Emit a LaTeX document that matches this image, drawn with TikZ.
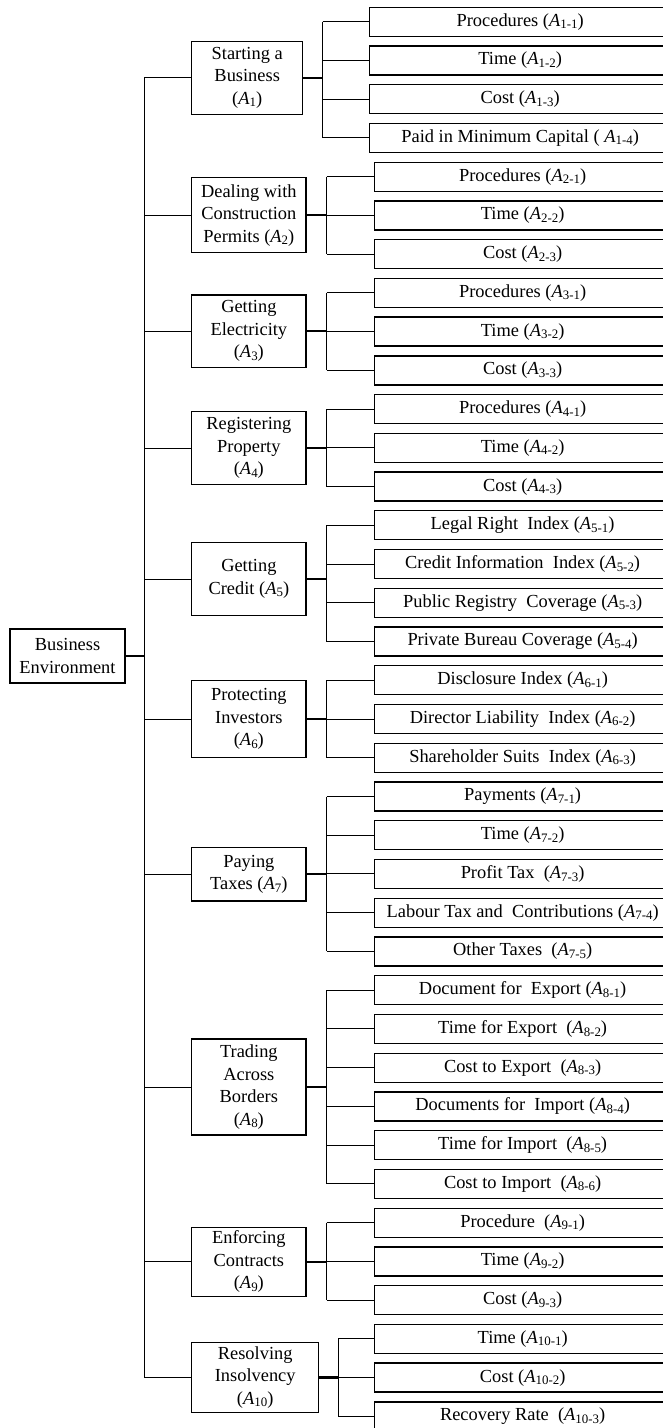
\documentclass[tikz,border=0pt]{standalone}
\usepackage{fontspec}
\setmainfont{Liberation Serif}
% subscript index set in a smaller size and lowered
\newcommand\ixsub[1]{\raisebox{-0.3ex}{\fontsize{12.9}{12.9}\selectfont #1}}
\newcommand\Ai[1]{\textit{A}\ixsub{#1}}
\tikzset{
  box/.style={draw, line width=1.1pt, inner sep=0pt, align=center,
              font=\fontsize{18.4}{22.5}\selectfont},
  cat/.style={box, minimum width=114.3pt},
  leaf/.style={box, line width=1.3pt, minimum width=296.7pt, minimum height=29pt},
  leafa/.style={leaf, minimum width=301.7pt},
  link/.style={line width=1pt},
  heavy/.style={line width=2.2pt},
}
\begin{document}
\begin{tikzpicture}[x=1pt,y=-1pt]
\useasboundingbox (0,0) rectangle (663,1428);
\clip (0,0) rectangle (663,1428);

% root
\node[box, minimum width=115pt, minimum height=54pt] (root) at (67.5,656) {Business\\Environment};

% categories
\node[cat, minimum width=111pt, minimum height=73.3pt] (a1) at (247.2,77.7) {Starting a\\Business\\(\Ai{1})};
\node[cat, minimum height=75pt] (a2) at (248.85,215.2) {Dealing with\\Construction\\Permits (\Ai{2})};
\node[cat, minimum height=72.7pt] (a3) at (248.85,331.3) {Getting\\Electricity\\(\Ai{3})};
\node[cat, minimum height=72.6pt] (a4) at (248.85,448) {Registering\\Property\\(\Ai{4})};
\node[cat, minimum height=73.4pt] (a5) at (248.85,579) {Getting\\Credit (\Ai{5})};
\node[cat, minimum height=77pt] (a6) at (248.85,719.2) {Protecting\\Investors\\(\Ai{6})};
\node[cat, minimum height=53.3pt] (a7) at (248.85,874.35) {Paying\\Taxes (\Ai{7})};
\node[cat, minimum height=96pt] (a8) at (248.85,1087) {Trading\\Across\\Borders\\(\Ai{8})};
\node[cat, minimum height=69pt] (a9) at (248.85,1261.8) {Enforcing\\Contracts\\(\Ai{9})};
\node[cat, minimum width=127pt, minimum height=69.6pt] (a10) at (255.2,1377.5) {Resolving\\Insolvency\\(\Ai{10})};

% indicators
\node[leafa] (l1x1) at (520.15,{21.7+38.74*0}) {Procedures (\Ai{1-1})};
\node[leafa] (l1x2) at (520.15,{21.7+38.74*1}) {Time (\Ai{1-2})};
\node[leafa] (l1x3) at (520.15,{21.7+38.74*2}) {Cost (\Ai{1-3})};
\node[leafa] (l1x4) at (520.15,{21.7+38.74*3}) {Paid in Minimum Capital ( \Ai{1-4})};

\node[leaf] (l2x1) at (522.65,{21.7+38.74*4}) {Procedures (\Ai{2-1})};
\node[leaf] (l2x2) at (522.65,{21.7+38.74*5}) {Time (\Ai{2-2})};
\node[leaf] (l2x3) at (522.65,{21.7+38.74*6}) {Cost (\Ai{2-3})};

\node[leaf] (l3x1) at (522.65,{21.7+38.74*7}) {Procedures (\Ai{3-1})};
\node[leaf] (l3x2) at (522.65,{21.7+38.74*8}) {Time (\Ai{3-2})};
\node[leaf] (l3x3) at (522.65,{21.7+38.74*9}) {Cost (\Ai{3-3})};

\node[leaf] (l4x1) at (522.65,{21.7+38.74*10}) {Procedures (\Ai{4-1})};
\node[leaf] (l4x2) at (522.65,{21.7+38.74*11}) {Time (\Ai{4-2})};
\node[leaf] (l4x3) at (522.65,{21.7+38.74*12}) {Cost (\Ai{4-3})};

\node[leaf] (l5x1) at (522.65,{21.7+38.74*13}) {Legal Right\ \ Index (\Ai{5-1})};
\node[leaf] (l5x2) at (522.65,{21.7+38.74*14}) {Credit Information\ \ Index (\Ai{5-2})};
\node[leaf] (l5x3) at (522.65,{21.7+38.74*15}) {Public Registry\ \ Coverage (\Ai{5-3})};
\node[leaf] (l5x4) at (522.65,{21.7+38.74*16}) {Private Bureau\ Coverage (\Ai{5-4})};

\node[leaf] (l6x1) at (522.65,{21.7+38.74*17}) {Disclosure Index (\Ai{6-1})};
\node[leaf] (l6x2) at (522.65,{21.7+38.74*18}) {Director Liability\ \ Index (\Ai{6-2})};
\node[leaf] (l6x3) at (522.65,{21.7+38.74*19}) {Shareholder Suits\ \ Index (\Ai{6-3})};

\node[leaf] (l7x1) at (522.65,{21.7+38.74*20}) {Payments (\Ai{7-1})};
\node[leaf] (l7x2) at (522.65,{21.7+38.74*21}) {Time (\Ai{7-2})};
\node[leaf] (l7x3) at (522.65,{21.7+38.74*22}) {Profit Tax\ \ (\Ai{7-3})};
\node[leaf] (l7x4) at (522.65,{21.7+38.74*23}) {Labour Tax and\ \ Contributions (\Ai{7-4})};
\node[leaf] (l7x5) at (522.65,{21.7+38.74*24}) {Other Taxes\ \ (\Ai{7-5})};

\node[leaf] (l8x1) at (522.65,{21.7+38.74*25}) {Document for\ \ Export (\Ai{8-1})};
\node[leaf] (l8x2) at (522.65,{21.7+38.74*26}) {Time for Export\ \ (\Ai{8-2})};
\node[leaf] (l8x3) at (522.65,{21.7+38.74*27}) {Cost to Export\ \ (\Ai{8-3})};
\node[leaf] (l8x4) at (522.65,{21.7+38.74*28}) {Documents for\ \ Import (\Ai{8-4})};
\node[leaf] (l8x5) at (522.65,{21.7+38.74*29}) {Time for Import\ \ (\Ai{8-5})};
\node[leaf] (l8x6) at (522.65,{21.7+38.74*30}) {Cost to Import\ \ (\Ai{8-6})};

\node[leaf] (l9x1) at (522.65,{21.7+38.74*31}) {Procedure\ \ (\Ai{9-1})};
\node[leaf] (l9x2) at (522.65,{21.7+38.74*32}) {Time (\Ai{9-2})};
\node[leaf] (l9x3) at (522.65,{21.7+38.74*33}) {Cost (\Ai{9-3})};

\node[leaf] (l10x1) at (522.65,{21.7+38.74*34}) {Time (\Ai{10-1})};
\node[leaf] (l10x2) at (522.65,{21.7+38.74*35}) {Cost (\Ai{10-2})};
\node[leaf] (l10x3) at (522.65,{21.7+38.74*36}) {Recovery Rate\ \ (\Ai{10-3})};

% trunk and bus lines
\coordinate (trunk) at (144.3,0);
\coordinate (b1) at (322.7,0);
\coordinate (b2) at (326.7,0);
\coordinate (b3) at (326.7,0);
\coordinate (b4) at (326.7,0);
\coordinate (b5) at (326.7,0);
\coordinate (b6) at (326.7,0);
\coordinate (b7) at (326.7,0);
\coordinate (b8) at (326.7,0);
\coordinate (b9) at (326.7,0);
\coordinate (b10) at (338.3,0);

\draw[heavy] (root.east) -- (root.east -| trunk);
\draw[link] (trunk |- a1.west) -- (trunk |- a10.west);
\foreach \g/\n in {1/4,2/3,3/3,4/3,5/4,6/3,7/5,8/6,9/3,10/3}{
  \draw[link] (trunk |- a\g.west) -- (a\g.west);
  \draw[heavy] (a\g.east) -- (a\g.east -| b\g);
  \draw[link] (b\g |- l\g x1.west) -- (b\g |- l\g x\n.west);
  \foreach \c in {1,...,\n}{
    \draw[link] (b\g |- l\g x\c.west) -- (l\g x\c.west);
  }
}
\end{tikzpicture}
\end{document}
